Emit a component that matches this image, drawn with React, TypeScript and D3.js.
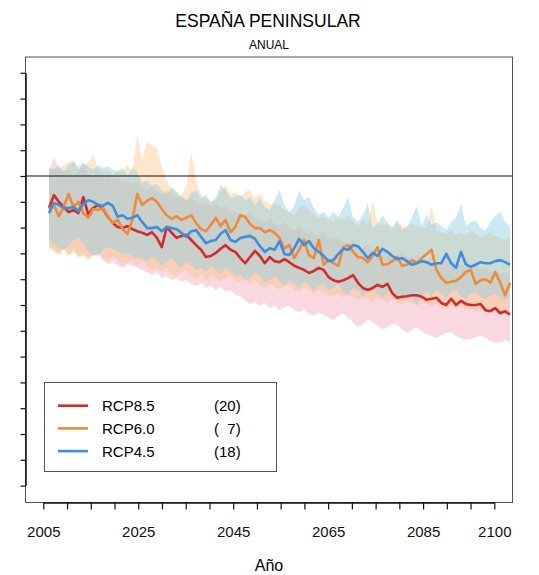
import * as React from 'react';
import {useEffect, useRef} from 'react';
import * as d3 from 'd3';

const width = 539;
const height = 575;

// years 2006..2100
const years = d3.range(2006, 2101);

// ensemble mean, % change
const rcp85 = [-6.2, -3.7, -5.0, -6.0, -7.0, -6.6, -7.2, -4.1, -7.4, -6.2, -5.6, -6.4, -7.9, -9.1, -9.9, -10.1, -9.7, -10.3, -10.7,
  -11.0, -11.4, -10.9, -12.0, -13.8, -9.9, -11.0, -12.0, -11.6, -11.4, -12.4, -13.4, -14.3, -15.7, -15.5, -14.9, -14.1, -13.4, -14.3, -14.7,
  -15.9, -16.9, -15.7, -14.5, -15.5, -16.9, -15.7, -16.5, -16.7, -16.1, -16.7, -17.4, -17.8, -18.2, -18.8, -18.4, -17.8, -18.2, -19.6,
  -20.2, -20.5, -20.2, -19.8, -19.2, -20.7, -21.7, -22.1, -21.7, -21.1, -21.5, -20.9, -22.7, -23.6, -23.4, -23.3, -23.1, -23.1, -23.4,
  -24.0, -23.8, -23.6, -24.6, -25.0, -23.8, -25.0, -24.2, -24.8, -25.0, -25.0, -24.8, -26.0, -26.2, -25.6, -26.6, -26.2, -26.9];
const rcp60 = [-6.4, -5.6, -7.8, -6.0, -3.5, -6.0, -5.0, -7.2, -8.1, -6.4, -6.6, -6.2, -7.8, -9.1, -8.5, -10.3, -11.2, -8.5, -3.5,
  -5.6, -4.8, -4.3, -5.0, -6.4, -7.6, -8.3, -7.8, -8.5, -8.1, -7.6, -9.1, -10.3, -10.7, -9.5, -8.1, -9.7, -8.5, -10.9, -9.9,
  -7.6, -7.9, -9.3, -10.1, -10.1, -10.9, -10.5, -11.0, -12.0, -14.1, -13.4, -15.9, -14.3, -12.4, -15.3, -15.9, -12.4, -17.2, -16.3,
  -16.9, -17.4, -13.8, -13.4, -14.7, -15.7, -15.9, -16.7, -15.5, -13.8, -17.2, -17.1, -16.5, -15.7, -17.4, -17.2, -16.3, -16.9, -15.9,
  -15.1, -14.3, -18.2, -19.8, -20.7, -20.5, -20.3, -19.6, -18.6, -18.2, -20.9, -20.2, -20.0, -20.7, -18.6, -20.7, -23.1, -20.7];
const rcp45 = [-7.2, -5.2, -5.6, -6.2, -6.2, -6.0, -6.8, -5.4, -4.7, -5.0, -5.6, -5.8, -5.2, -5.8, -7.9, -7.6, -8.3, -8.1, -7.6,
  -8.9, -10.1, -10.1, -9.9, -10.7, -9.9, -10.1, -10.3, -11.0, -11.8, -10.7, -10.5, -11.8, -13.0, -12.6, -12.4, -11.2, -10.5, -12.4, -12.8,
  -12.0, -11.8, -11.6, -12.2, -13.6, -14.7, -14.0, -14.3, -12.6, -15.1, -15.3, -14.0, -12.2, -13.4, -12.6, -14.0, -14.7, -15.5, -16.5,
  -16.3, -15.1, -14.1, -14.3, -13.4, -13.6, -14.7, -15.9, -14.9, -15.5, -14.1, -14.7, -15.5, -16.1, -15.9, -16.5, -17.2, -16.9, -16.5,
  -16.7, -17.2, -16.9, -16.9, -15.1, -16.9, -17.8, -14.7, -17.1, -17.6, -17.2, -16.7, -16.9, -16.9, -16.5, -16.3, -16.7, -17.2];

// model spread (upper / lower)
const rcp85Hi = [1.2, 3.5, 1.6, 0.8, 1.2, 0.2, 0.8, 2.7, 0.4, 0.0, 0.8, -0.4, 0.0, -0.8, -0.4, -1.2, -0.8, -1.6, -1.2,
  -1.9, -2.7, -2.3, -3.1, -3.7, -2.7, -3.5, -4.3, -3.9, -4.7, -4.3, -5.0, -5.6, -5.2, -5.8, -5.4, -6.2, -5.8, -6.6, -7.0,
  -7.4, -7.8, -7.0, -8.1, -8.5, -8.9, -8.1, -9.3, -9.7, -8.9, -10.1, -10.5, -9.7, -10.9, -10.5, -11.2, -11.6, -10.9, -12.0,
  -12.4, -12.0, -12.8, -13.2, -12.4, -13.6, -14.0, -13.2, -14.3, -14.0, -14.7, -14.3, -15.1, -15.5, -14.7, -15.5, -15.9, -15.3, -15.9,
  -16.3, -15.9, -16.7, -17.1, -16.3, -17.2, -16.7, -17.4, -17.1, -17.8, -17.4, -18.2, -17.8, -18.6, -18.2, -19.0, -18.6, -19.2];
const rcp85Lo = [-13.6, -14.3, -14.9, -14.0, -15.3, -14.3, -15.5, -15.1, -15.9, -15.5, -15.1, -16.3, -17.1, -16.7, -17.4, -17.8, -17.1, -17.4, -17.8,
  -18.2, -18.6, -19.2, -18.6, -19.8, -19.4, -20.2, -19.8, -20.5, -20.2, -20.9, -21.3, -20.7, -21.7, -21.1, -22.1, -21.5, -22.5, -22.1, -22.9,
  -23.3, -24.0, -24.8, -24.4, -25.2, -24.6, -25.6, -25.0, -26.0, -25.4, -25.2, -26.0, -26.4, -25.8, -26.7, -27.1, -26.4, -26.9, -27.5,
  -27.9, -27.1, -26.6, -27.5, -28.3, -29.3, -28.7, -27.9, -28.3, -29.1, -29.8, -29.3, -28.7, -28.9, -29.7, -30.4, -29.8, -29.3, -30.2,
  -30.6, -31.0, -31.4, -30.8, -30.4, -30.2, -31.0, -31.4, -31.8, -31.6, -31.2, -31.0, -31.4, -32.0, -32.4, -32.2, -31.8, -32.2];
const rcp60Hi = [0.8, 1.6, 1.2, 2.1, 2.7, 3.1, 1.2, 1.6, 2.7, 4.1, 1.6, 0.8, 1.2, 0.2, 1.2, 0.8, 2.1, 0.8, 7.9,
  3.1, 6.6, 5.8, 5.4, 1.9, -0.8, -2.3, -3.1, -3.9, -1.7, 4.5, -0.8, -3.7, -4.3, -5.0, -4.7, -2.7, -1.9, -3.5, -3.1,
  -3.9, -3.1, -2.7, -4.3, -3.5, -4.7, -5.6, -5.4, -5.8, -6.6, -7.0, -7.6, -6.2, -5.6, -6.6, -7.4, -8.1, -7.8, -8.5,
  -8.9, -8.1, -8.5, -7.6, -8.9, -9.7, -8.5, -9.5, -4.7, -8.9, -9.7, -9.3, -10.1, -8.9, -9.7, -10.1, -9.3, -9.7, -10.1,
  -10.1, -5.8, -10.5, -10.9, -11.2, -10.5, -11.4, -10.9, -11.6, -10.5, -11.2, -12.0, -11.4, -10.9, -11.6, -12.0, -12.4, -11.6];
const rcp60Lo = [-14.0, -14.7, -15.3, -14.3, -15.5, -14.7, -15.9, -15.5, -16.3, -15.3, -14.7, -15.9, -16.7, -15.5, -16.3, -17.1, -16.7, -16.3, -17.2,
  -16.7, -17.4, -18.2, -17.8, -18.6, -17.8, -19.0, -19.4, -18.6, -18.2, -19.4, -19.8, -19.0, -20.2, -19.4, -19.8, -20.5, -19.8, -19.4, -20.2,
  -20.5, -19.8, -20.9, -20.2, -21.1, -21.7, -20.9, -21.3, -22.1, -21.5, -20.9, -22.1, -22.5, -21.7, -22.1, -22.9, -22.1, -22.5, -23.1,
  -23.3, -22.7, -23.6, -23.1, -23.3, -24.0, -23.4, -23.8, -24.4, -23.6, -24.0, -24.6, -23.8, -24.4, -25.0, -24.2, -24.6, -25.2, -24.4,
  -24.8, -25.2, -24.6, -25.4, -25.8, -25.0, -25.6, -25.2, -26.0, -25.6, -26.2, -25.8, -26.4, -26.0, -26.6, -26.2, -26.9, -26.7];
const rcp45Hi = [1.6, 1.2, 2.1, 0.8, 2.3, 2.7, 1.7, 2.5, 1.9, 1.2, 2.1, 1.6, 1.9, 1.2, 0.8, 1.6, 0.2, 1.7, 0.8,
  -1.4, -0.8, -1.9, -1.6, -2.7, -3.7, -2.3, -3.1, -4.1, -4.7, -3.3, -2.7, -4.3, -3.7, -5.0, -4.1, -1.7, -2.7, -4.3, -3.9,
  -3.7, -4.7, -4.1, -5.6, -4.3, -6.0, -6.6, -4.7, -2.7, -5.6, -7.0, -5.8, -2.7, -4.7, -4.1, -6.2, -7.6, -7.0, -8.1,
  -7.0, -7.8, -6.2, -4.1, -8.1, -8.9, -7.6, -5.4, -10.1, -9.3, -7.6, -8.9, -10.1, -8.5, -10.5, -9.7, -8.1, -5.8, -9.7,
  -7.4, -9.5, -8.9, -9.7, -10.5, -8.9, -8.1, -5.4, -9.7, -8.9, -8.5, -10.1, -10.5, -8.9, -7.8, -7.0, -8.9, -9.7];
const rcp45Lo = [-12.4, -13.2, -14.0, -14.3, -13.6, -12.4, -12.0, -13.2, -14.7, -15.3, -15.5, -14.3, -13.8, -14.1, -14.7, -15.3, -14.9, -15.5, -15.9,
  -15.9, -16.7, -15.5, -16.3, -17.4, -16.7, -15.9, -17.1, -17.8, -16.7, -17.2, -18.2, -17.8, -18.6, -17.4, -18.2, -19.0, -17.8, -18.6, -19.4,
  -19.2, -20.2, -19.8, -18.6, -19.4, -20.7, -20.2, -19.4, -20.5, -21.3, -20.2, -20.9, -21.7, -20.5, -21.1, -22.1, -21.3, -20.9, -22.1,
  -21.7, -20.9, -22.5, -23.1, -21.7, -22.1, -23.3, -22.5, -21.3, -22.9, -23.6, -22.5, -22.1, -23.3, -24.0, -22.9, -23.6, -24.8, -23.3,
  -22.5, -23.3, -22.1, -22.9, -23.6, -22.5, -22.1, -23.3, -23.8, -22.9, -22.5, -23.4, -24.0, -23.1, -22.7, -23.6, -24.2, -23.4];

const scenarios = ['RCP8.5', 'RCP6.0', 'RCP4.5'];
const nModels = ['(20)', '(  7)', '(18)'];
const lineColors = ['#d22b2b', '#ee8a3a', '#3d8edb'];
const bandColors = ['#f3a3b6', '#fbc383', '#8fcfe0'];
const bandOpacity = [0.42, 0.42, 0.45];

const yTicks = d3.range(-60, 21, 5);
const xTicks = d3.range(2005, 2101, 5);
const xLabels = [2005, 2025, 2045, 2065, 2085, 2100];

const font = '"Liberation Sans", Arial, sans-serif';

export default function App() {
  const ref = useRef<SVGSVGElement>(null);

  useEffect(() => {
    const svg = d3.select(ref.current);
    svg.selectAll('*').remove();

    const box = {left: 25.5, top: 57, right: 512.5, bottom: 502.5};

    // the data runs a bit past the labelled axis
    const x = d3.scaleLinear().domain([2006, 2100]).range([49, 510]);
    const xAxisScale = d3.scaleLinear().domain([2005, 2100]).range([43.3, 494.3]);
    const y = d3.scaleLinear().domain([-60, 20]).range([485.6, 72.8]);

    const means = [rcp85, rcp60, rcp45];
    const his = [rcp85Hi, rcp60Hi, rcp45Hi];
    const los = [rcp85Lo, rcp60Lo, rcp45Lo];

    svg.append('text')
      .attr('x', 268).attr('y', 27)
      .attr('text-anchor', 'middle')
      .style('font', `17.5px ${font}`)
      .text('ESPAÑA PENINSULAR');
    svg.append('text')
      .attr('x', 269).attr('y', 49)
      .attr('text-anchor', 'middle')
      .style('font', `12px ${font}`)
      .text('ANUAL');

    const area = d3.area<number>()
      .x((_, i) => x(years[i]));

    scenarios.forEach((s, k) => {
      svg.append('path')
        .datum(years.map((_, i) => i))
        .attr('fill', bandColors[k])
        .attr('fill-opacity', bandOpacity[k])
        .attr('d', area.y0(i => y(los[k][i])).y1(i => y(his[k][i])) as any);
    });

    svg.append('line')
      .attr('x1', box.left).attr('x2', box.right)
      .attr('y1', y(0)).attr('y2', y(0))
      .attr('stroke', '#111').attr('stroke-width', 1.2);

    const line = d3.line<number>()
      .x((_, i) => x(years[i]))
      .y(d => y(d));

    scenarios.forEach((s, k) => {
      svg.append('path')
        .datum(means[k])
        .attr('fill', 'none')
        .attr('stroke', lineColors[k])
        .attr('stroke-width', 2.6)
        .attr('stroke-linejoin', 'round')
        .attr('d', line as any);
    });

    svg.append('rect')
      .attr('x', box.left).attr('y', box.top)
      .attr('width', box.right - box.left).attr('height', box.bottom - box.top)
      .attr('fill', 'none').attr('stroke', '#555').attr('stroke-width', 1);

    const yAxis = svg.append('g')
      .attr('transform', `translate(${box.left},0)`)
      .call(d3.axisLeft(y).tickValues(yTicks).tickSize(5).tickSizeOuter(0).tickFormat(() => ''));
    yAxis.select('.domain').attr('stroke', '#111').attr('stroke-width', 1.5);
    yAxis.selectAll('.tick line').attr('stroke', '#111').attr('stroke-width', 1.2);

    const xAxis = svg.append('g')
      .attr('transform', `translate(0,${box.bottom})`)
      .call(d3.axisBottom(xAxisScale).tickValues(xTicks).tickSize(7).tickSizeOuter(0).tickPadding(17)
        .tickFormat(d => xLabels.includes(+d) ? String(d) : ''));
    xAxis.select('.domain').attr('stroke', '#111').attr('stroke-width', 1.5);
    xAxis.selectAll('.tick line').attr('stroke', '#111').attr('stroke-width', 1.2);
    xAxis.selectAll('text').style('font', `15px ${font}`).attr('fill', '#111');

    svg.append('text')
      .attr('x', 269).attr('y', 571)
      .attr('text-anchor', 'middle')
      .style('font', `16px ${font}`)
      .text('Año');

    // legend
    const lg = svg.append('g');
    lg.append('rect')
      .attr('x', 44.5).attr('y', 382.5).attr('width', 232).attr('height', 89)
      .attr('fill', 'white').attr('stroke', '#555').attr('stroke-width', 1);
    scenarios.forEach((s, k) => {
      const yy = 405.7 + k * 22.7;
      lg.append('line')
        .attr('x1', 58).attr('x2', 88).attr('y1', yy).attr('y2', yy)
        .attr('stroke', lineColors[k]).attr('stroke-width', 2.6);
      lg.append('text')
        .attr('x', 102).attr('y', yy).attr('dy', '0.36em')
        .style('font', `15px ${font}`)
        .text(s);
      lg.append('text')
        .attr('x', 214).attr('y', yy).attr('dy', '0.36em')
        .attr('xml:space', 'preserve')
        .style('font', `15px ${font}`)
        .style('white-space', 'pre')
        .text(nModels[k]);
    });
  }, []);

  return (
    <svg ref={ref} width={width} height={height}
      style={{position: 'absolute', left: 0, top: 0, background: 'white'}} />
  );
}
